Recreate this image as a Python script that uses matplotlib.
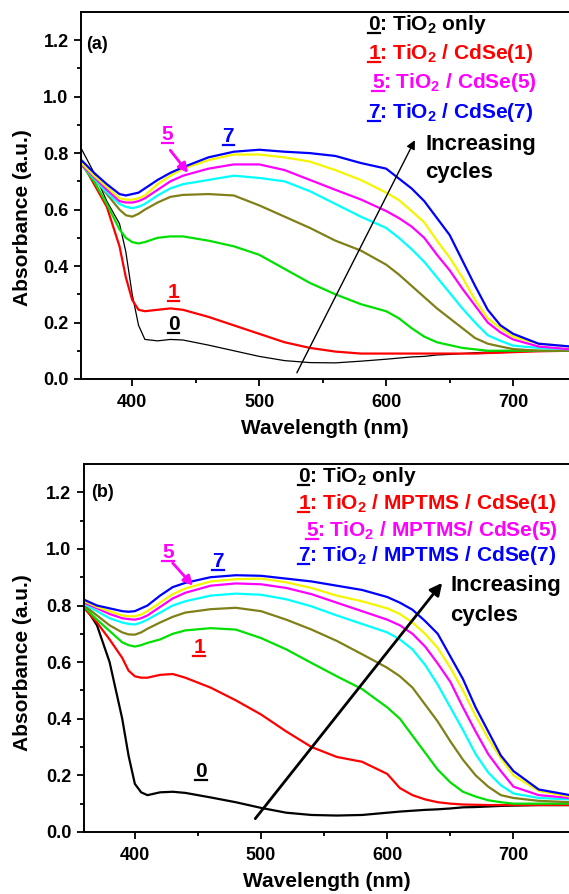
import matplotlib
matplotlib.use('Agg')
import matplotlib.pyplot as plt
from matplotlib.lines import Line2D

plt.rcParams['font.family'] = ['Liberation Sans', 'DejaVu Sans']
plt.rcParams['font.weight'] = 'bold'
plt.rcParams['mathtext.default'] = 'regular'

# wavelength grid (nm) shared by all curves
wl = [360, 370, 380, 390, 395, 400, 405, 410, 420, 430, 440, 460, 480, 500,
      520, 540, 560, 580, 600, 610, 620, 630, 640, 650, 660, 670, 680, 690,
      700, 720, 745]

# panel (a): TiO2 / CdSe(n)
a0 = [.815, .73, .63, .55, .45, .30, .19, .14, .135, .14, .138, .12, .10, .08,
      .065, .058, .057, .063, .07, .074, .078, .08, .085, .087, .09, .093, .095, .097,
      .098, .10, .10]
a1 = [.77, .69, .61, .47, .36, .28, .245, .24, .245, .25, .245, .22, .19, .16,
      .13, .11, .097, .09, .09, .09, .09, .09, .09, .09, .09, .09, .092, .093,
      .095, .098, .10]
a2 = [.76, .70, .62, .53, .50, .485, .48, .485, .50, .505, .505, .49, .47, .44,
      .39, .34, .30, .265, .24, .215, .18, .15, .13, .12, .11, .105, .10, .10,
      .10, .10, .10]
a3 = [.76, .71, .655, .60, .58, .575, .585, .60, .625, .645, .652, .655, .65, .615,
      .575, .535, .49, .455, .405, .37, .33, .29, .25, .215, .18, .145, .125, .115,
      .106, .10, .10]
a4 = [.76, .71, .66, .62, .61, .605, .61, .62, .65, .675, .69, .705, .72, .712,
      .70, .665, .62, .575, .535, .50, .46, .415, .36, .305, .25, .20, .155, .135,
      .118, .11, .105]
a5 = [.76, .715, .67, .63, .625, .625, .63, .64, .67, .70, .72, .745, .76, .76,
      .74, .705, .67, .636, .595, .57, .54, .50, .44, .385, .32, .26, .20, .165,
      .14, .115, .105]
a6 = [.765, .72, .68, .64, .635, .635, .64, .65, .69, .72, .745, .775, .795, .795,
      .785, .77, .74, .705, .66, .634, .595, .555, .49, .43, .36, .28, .215, .18,
      .15, .125, .115]
a7 = [.775, .73, .69, .655, .65, .655, .66, .675, .705, .73, .75, .785, .805, .812,
      .805, .80, .79, .765, .745, .71, .675, .63, .57, .51, .42, .33, .245, .19,
      .16, .125, .115]

# panel (b): TiO2 / MPTMS / CdSe(n)
b0 = [.80, .73, .60, .40, .27, .17, .14, .13, .14, .142, .138, .122, .105, .085,
      .068, .06, .058, .06, .068, .072, .075, .078, .08, .083, .087, .088, .09, .092,
      .093, .095, .095]
b1 = [.79, .74, .68, .615, .57, .55, .545, .545, .555, .558, .545, .51, .465, .415,
      .355, .30, .265, .248, .205, .155, .13, .115, .105, .10, .097, .096, .095, .095,
      .095, .095, .095]
b2 = [.795, .75, .71, .67, .66, .655, .66, .668, .68, .70, .712, .72, .715, .685,
      .645, .597, .55, .505, .44, .40, .34, .28, .22, .175, .142, .125, .112, .105,
      .10, .10, .10]
b3 = [.80, .765, .73, .705, .698, .697, .705, .718, .74, .76, .775, .787, .792, .78,
      .75, .715, .675, .628, .58, .55, .51, .45, .39, .32, .255, .20, .16, .13,
      .12, .11, .105]
b4 = [.805, .78, .755, .74, .735, .733, .74, .75, .775, .80, .815, .835, .842, .838,
      .822, .797, .765, .735, .705, .68, .645, .59, .52, .44, .36, .275, .21, .165,
      .136, .12, .115]
b5 = [.81, .79, .77, .755, .752, .75, .755, .765, .795, .825, .845, .87, .878, .875,
      .862, .84, .81, .78, .75, .73, .70, .655, .595, .53, .44, .355, .275, .215,
      .16, .13, .12]
b6 = [.815, .795, .78, .765, .762, .762, .768, .78, .81, .84, .86, .885, .893, .895,
      .882, .862, .835, .815, .79, .77, .74, .70, .65, .58, .50, .41, .33, .26,
      .20, .145, .125]
b7 = [.82, .80, .79, .78, .778, .78, .79, .80, .835, .865, .88, .90, .907, .905,
      .895, .885, .87, .855, .83, .81, .785, .745, .70, .62, .54, .44, .355, .27,
      .215, .15, .13]

colors = ['black', '#ff0000', '#00e000', '#808018', '#00ffff', '#ff00ff', '#f5f500', '#0000ff']

legend_a = ['0: TiO$_2$ only', '1: TiO$_2$ / CdSe(1)', '5: TiO$_2$ / CdSe(5)', '7: TiO$_2$ / CdSe(7)']
legend_b = ['0: TiO$_2$ only', '1: TiO$_2$ / MPTMS / CdSe(1)', '5: TiO$_2$ / MPTMS/ CdSe(5)',
            '7: TiO$_2$ / MPTMS / CdSe(7)']
legend_colors = ['black', '#ff0000', '#ff00ff', '#0000ff']

fig = plt.figure(figsize=(5.69, 8.94), dpi=100)
ax_a = fig.add_axes([0.1424, 0.5761, 0.8576, 0.4105])
ax_b = fig.add_axes([0.1476, 0.0694, 0.8524, 0.4116])

underlines = []  # (ax, x, y, digit, color, size, ha)


def setup(ax):
    ax.set_xlim(359.7, 744)
    ax.set_ylim(0, 1.3)
    ax.spines['right'].set_visible(False)
    for s in ['left', 'top', 'bottom']:
        ax.spines[s].set_linewidth(1.4)
    ax.set_xticks([400, 500, 600, 700])
    ax.set_xticks([450, 550, 650], minor=True)
    ax.set_yticks([0.0, 0.2, 0.4, 0.6, 0.8, 1.0, 1.2])
    ax.set_yticks([0.1, 0.3, 0.5, 0.7, 0.9, 1.1], minor=True)
    ax.set_yticklabels(['0.0', '0.2', '0.4', '0.6', '0.8', '1.0', '1.2'])
    ax.tick_params(which='major', direction='out', length=5, width=1.3,
                   labelsize=13, pad=4)
    ax.tick_params(axis='x', which='major', pad=6)
    ax.tick_params(which='minor', direction='out', length=2.8, width=1.3)
    ax.tick_params(axis='y', which='both', right=False)
    ax.set_xlabel('Wavelength (nm)', fontsize=15, fontweight='bold')
    ax.set_ylabel('Absorbance (a.u.)', fontsize=15, fontweight='bold')
    ax.xaxis.set_label_coords(0.5, -0.11)


def num_label(ax, x, y, txt, color, size=15, ha='center'):
    ax.text(x, y, txt, color=color, fontsize=size, fontweight='bold',
            ha=ha, va='baseline')
    underlines.append((ax, x, y, txt[0], color, size, ha))


# ---------- panel (a) ----------
setup(ax_a)
for ys, c in zip([a0, a1, a2, a3, a4, a5, a6, a7], colors):
    ax_a.plot(wl, ys, color=c, lw=0.9 if c == 'black' else 1.6)
ax_a.yaxis.set_label_coords(-0.10, 0.44)
ax_a.text(363.5, 1.185, '(a)', fontsize=13, fontweight='bold', va='center')

ya = [1.235, 1.135, 1.032, 0.925]
xa = [586, 586, 589, 586]
for t, c, x, y in zip(legend_a, legend_colors, xa, ya):
    num_label(ax_a, x, y, t, c, size=15, ha='left')

ax_a.text(631, 0.812, 'Increasing', fontsize=16, fontweight='bold', va='baseline')
ax_a.text(631, 0.713, 'cycles', fontsize=16, fontweight='bold', va='baseline')
ax_a.annotate('', xy=(622.6, 0.846), xytext=(529.7, 0.022),
              arrowprops=dict(arrowstyle='-|>', color='black', lw=1.0,
                              mutation_scale=13, shrinkA=0, shrinkB=0))
num_label(ax_a, 427.7, 0.848, '5', '#ff00ff')
num_label(ax_a, 475.7, 0.838, '7', '#0000ff')
num_label(ax_a, 432.6, 0.286, '1', '#ff0000')
num_label(ax_a, 432.6, 0.173, '0', 'black')
ax_a.annotate('', xy=(444, 0.73), xytext=(430, 0.81),
              arrowprops=dict(arrowstyle='-|>', color='#ff00ff', lw=2.0,
                              mutation_scale=14, shrinkA=0, shrinkB=0))

# ---------- panel (b) ----------
setup(ax_b)
for ys, c in zip([b0, b1, b2, b3, b4, b5, b6, b7], colors):
    ax_b.plot(wl, ys, color=c, lw=1.6)
ax_b.yaxis.set_label_coords(-0.107, 0.46)
ax_b.text(365, 1.2, '(b)', fontsize=13, fontweight='bold', va='center')

yb = [1.235, 1.14, 1.046, 0.956]
xb = [529, 529, 536, 529]
for t, c, x, y in zip(legend_b, legend_colors, xb, yb):
    num_label(ax_b, x, y, t, c, size=15, ha='left')

ax_b.text(650, 0.851, 'Increasing', fontsize=16, fontweight='bold', va='baseline')
ax_b.text(650, 0.745, 'cycles', fontsize=16, fontweight='bold', va='baseline')
ax_b.annotate('', xy=(643.5, 0.88), xytext=(495.4, 0.047),
              arrowprops=dict(arrowstyle='-|>', color='black', lw=2.0,
                              mutation_scale=18, shrinkA=0, shrinkB=0))
num_label(ax_b, 426.5, 0.969, '5', '#ff00ff')
num_label(ax_b, 466, 0.937, '7', '#0000ff')
num_label(ax_b, 451, 0.632, '1', '#ff0000')
num_label(ax_b, 452.4, 0.195, '0', 'black')
ax_b.annotate('', xy=(446, 0.87), xytext=(430, 0.95),
              arrowprops=dict(arrowstyle='-|>', color='#ff00ff', lw=2.0,
                              mutation_scale=14, shrinkA=0, shrinkB=0))

# underline the numbers, measured from the rendered glyphs
fig.canvas.draw()
renderer = fig.canvas.get_renderer()
W, H = fig.bbox.width, fig.bbox.height
for ax, x, y, digit, c, size, ha in underlines:
    t = ax.text(x, y, digit, fontsize=size, fontweight='bold',
                ha=ha, va='baseline', alpha=0)
    bb = t.get_window_extent(renderer)
    base = ax.transData.transform((x, y))[1] - 3
    fig.add_artist(Line2D([bb.x0 / W, bb.x1 / W], [base / H, base / H],
                          transform=fig.transFigure, color=c, lw=1.6))

fig.savefig('out.png', dpi=100)
